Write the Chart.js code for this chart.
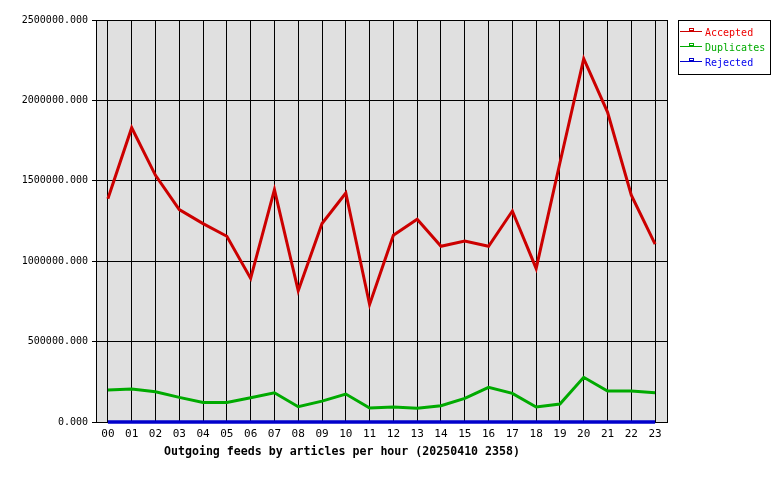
<!DOCTYPE html>
<html>
<head>
<meta charset="utf-8">
<script src="https://cdn.jsdelivr.net/npm/chart.js@4/dist/chart.umd.min.js"></script>
<style>
  html, body { margin: 0; padding: 0; background: #ffffff; }
  #wrap { width: 780px; height: 480px; position: relative; }
</style>
</head>
<body>
<div id="wrap"><canvas id="c" width="780" height="480"></canvas></div>
<script>
const hours = ["00","01","02","03","04","05","06","07","08","09","10","11","12","13","14","15","16","17","18","19","20","21","22","23"];
const accepted = [1389000, 1830000, 1534000, 1321000, 1234000, 1155000, 893000, 1445000, 816000, 1234000, 1424000, 731000, 1161000, 1261000, 1093000, 1126000, 1093000, 1312000, 955000, 1612000, 2259000, 1927000, 1410000, 1106000];
const duplicates = [199000, 205000, 188000, 153000, 122000, 122000, 151000, 182000, 95000, 130000, 174000, 87000, 93000, 85000, 101000, 147000, 216000, 178000, 93000, 112000, 278000, 193000, 193000, 182000];
const rejected = [0,0,0,0,0,0,0,0,0,0,0,0,0,0,0,0,0,0,0,0,0,0,0,0];
const yTicks = [0, 500000, 1000000, 1500000, 2000000, 2500000];
const chartTitle = "Outgoing feeds by articles per hour (20250410 2358)";
const seriesNames = ["Accepted", "Duplicates", "Rejected"];
const seriesColors = ["#cc0000", "#00aa00", "#0000cc"];
const legendTextColors = ["#ee0000", "#00aa00", "#0000ee"];

const MONO = '"DejaVu Sans Mono", "Liberation Mono", monospace';

const plotBg = {
  id: 'plotBg',
  beforeDraw(chart) {
    const a = chart.chartArea, ctx = chart.ctx;
    ctx.save();
    ctx.fillStyle = '#e0e0e0';
    ctx.fillRect(a.left, a.top, a.right - a.left, a.bottom - a.top);
    ctx.restore();
  },
  beforeDatasetsDraw(chart) {
    const a = chart.chartArea, ctx = chart.ctx;
    ctx.save();
    ctx.strokeStyle = '#000';
    ctx.lineWidth = 1;
    ctx.strokeRect(Math.round(a.left) + 0.5, Math.round(a.top) + 0.5, Math.round(a.right - a.left), Math.round(a.bottom - a.top));
    ctx.restore();
  },
  afterDraw(chart) {
    const ctx = chart.ctx;
    ctx.save();
    // title
    ctx.font = 'bold 11.6px ' + MONO;
    ctx.fillStyle = '#000';
    ctx.textBaseline = 'middle';
    ctx.textAlign = 'left';
    ctx.fillText(chartTitle, 164, 452);
    // legend box
    const bx = 678.5, by = 20.5, bw = 92, bh = 54;
    ctx.fillStyle = '#fff';
    ctx.fillRect(bx, by, bw, bh);
    ctx.strokeStyle = '#000';
    ctx.lineWidth = 1;
    ctx.strokeRect(bx, by, bw, bh);
    ctx.font = '10px ' + MONO;
    chart.data.datasets.forEach((ds, i) => {
      const yy = 33 + i * 15;
      const col = seriesColors[i];
      ctx.fillStyle = col;
      ctx.fillRect(680, yy - 2, 22, 1);
      ctx.strokeStyle = col;
      ctx.lineWidth = 1;
      ctx.strokeRect(689.5, yy - 4.5, 4, 2);
      ctx.fillStyle = legendTextColors[i];
      ctx.fillText(ds.label, 705, yy);
    });
    ctx.restore();
  }
};

new Chart(document.getElementById('c'), {
  type: 'line',
  data: {
    labels: hours,
    datasets: [
      { label: seriesNames[0], data: accepted, borderColor: seriesColors[0], backgroundColor: seriesColors[0], borderWidth: 3, pointRadius: 0, tension: 0, clip: false },
      { label: seriesNames[1], data: duplicates, borderColor: seriesColors[1], backgroundColor: seriesColors[1], borderWidth: 3, pointRadius: 0, tension: 0, clip: false },
      { label: seriesNames[2], data: rejected, borderColor: seriesColors[2], backgroundColor: seriesColors[2], borderWidth: 3.5, pointRadius: 0, tension: 0, clip: false }
    ]
  },
  options: {
    responsive: false,
    animation: false,
    devicePixelRatio: 1,
    layout: { padding: { left: 0, top: 20, right: 113, bottom: 0 } },
    plugins: { legend: { display: false }, title: { display: false }, tooltip: { enabled: false } },
    scales: {
      x: {
        type: 'category',
        offset: true,
        grid: { offset: false, color: '#000', lineWidth: 1, drawTicks: false },
        border: { display: true, color: '#000' },
        ticks: { color: '#000', font: { family: MONO, size: 11 }, padding: 6, maxRotation: 0, autoSkip: false },
        afterFit(scale) { scale.height = 58; }
      },
      y: {
        min: 0, max: 2500000,
        afterBuildTicks(scale) { scale.ticks = yTicks.map(v => ({ value: v })); },
        grid: { color: '#000', lineWidth: 1, drawTicks: true, tickLength: 4 },
        border: { display: true, color: '#000' },
        ticks: { color: '#000', font: { family: MONO, size: 10 }, padding: 4, callback: v => Number(v).toFixed(3) },
        afterFit(scale) { scale.width = 96; }
      }
    }
  },
  plugins: [plotBg]
});
</script>
</body>
</html>
